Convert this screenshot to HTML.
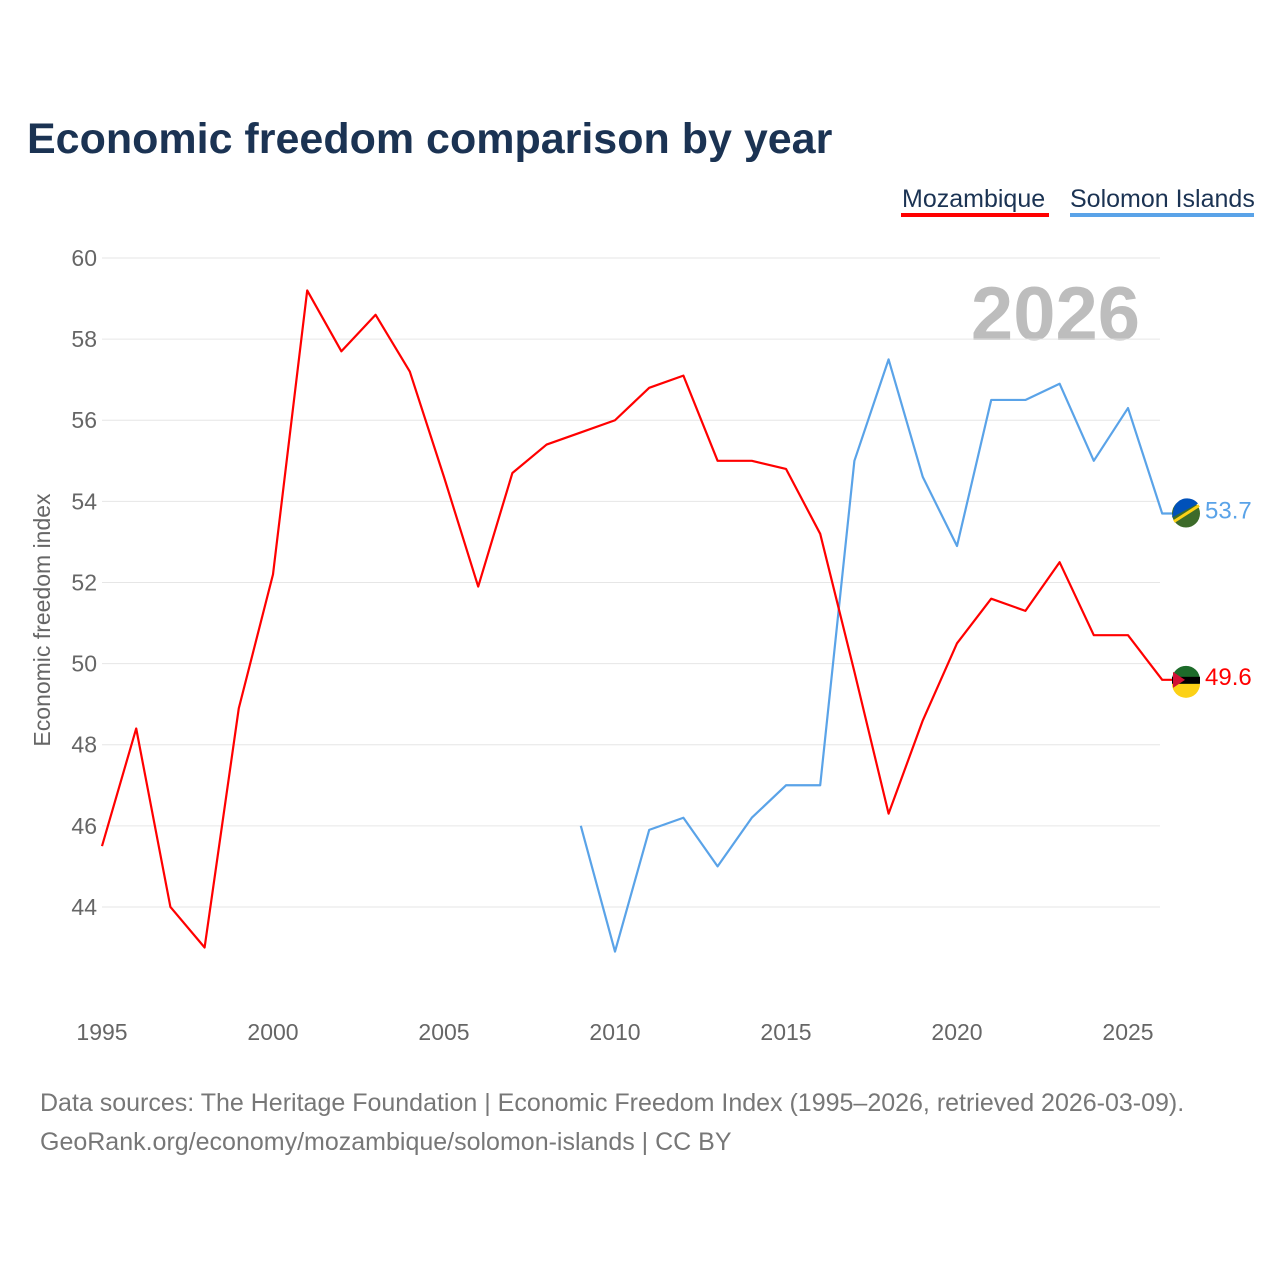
<!DOCTYPE html>
<html><head><meta charset="utf-8"><style>
body{margin:0;background:#fff;font-family:"Liberation Sans",sans-serif}
svg text{font-family:"Liberation Sans",sans-serif}
</style></head><body>
<svg id="chart" width="1280" height="1280">
<text x="27" y="153" font-size="43" font-weight="bold" fill="#1b3353">Economic freedom comparison by year</text>
<g>
<text x="902" y="207" font-size="25" fill="#1b3353">Mozambique</text>
<rect x="901" y="213" width="148" height="4" fill="#ff0000"/>
<text x="1070" y="207" font-size="25" fill="#1b3353">Solomon Islands</text>
<rect x="1070" y="213" width="184" height="4" fill="#5aa3e8"/>
</g>
<text x="1140" y="340" font-size="76" font-weight="bold" fill="#bdbdbd" text-anchor="end">2026</text>
<g id="grid"></g><g id="xt"></g><g id="lines"></g>
<text transform="translate(50,620) rotate(-90)" font-size="23" fill="#666" text-anchor="middle">Economic freedom index</text>
<text x="40" y="1111" font-size="25" fill="#777">Data sources: The Heritage Foundation | Economic Freedom Index (1995–2026, retrieved 2026-03-09).</text>
<text x="40" y="1150" font-size="25" fill="#777">GeoRank.org/economy/mozambique/solomon-islands | CC BY</text>
</svg>
<script>
const years=[1995,1996,1997,1998,1999,2000,2001,2002,2003,2004,2005,2006,2007,2008,2009,2010,2011,2012,2013,2014,2015,2016,2017,2018,2019,2020,2021,2022,2023,2024,2025,2026];
const mozambique=[45.5,48.4,44.0,43.0,48.9,52.2,59.2,57.7,58.6,57.2,54.6,51.9,54.7,55.4,55.7,56.0,56.8,57.1,55.0,55.0,54.8,53.2,49.8,46.3,48.6,50.5,51.6,51.3,52.5,50.7,50.7,49.6];
const solomon=[null,null,null,null,null,null,null,null,null,null,null,null,null,null,46.0,42.9,45.9,46.2,45.0,46.2,47.0,47.0,55.0,57.5,54.6,52.9,56.5,56.5,56.9,55.0,56.3,53.7];
const yTicks=[44,46,48,50,52,54,56,58,60];
const xTicks=[1995,2000,2005,2010,2015,2020,2025];
const NS="http://www.w3.org/2000/svg";
const X=y=>102+(y-1995)*34.2, Y=v=>258+(60-v)*40.56;
function mk(t,a,p){const e=document.createElementNS(NS,t);for(const k in a)e.setAttribute(k,a[k]);p.appendChild(e);return e;}
const g=document.getElementById('grid');
yTicks.forEach(v=>{
 const l=mk('line',{x1:102,x2:1160,y1:Y(v),y2:Y(v),stroke:'#e6e6e6','stroke-width':1},g);
 
 
 const t=mk('text',{x:97,y:Y(v)+8,'font-size':23,fill:'#666','text-anchor':'end'},g);t.textContent=v;
 
 
});
const xt=document.getElementById('xt');
xTicks.forEach(v=>{
 const t=mk('text',{x:X(v),y:1040,'font-size':23,fill:'#666','text-anchor':'middle'},xt);t.textContent=v;
 
 
});
const L=document.getElementById('lines');
function series(vals,color,name){
 let d='';let pen=false;
 vals.forEach((v,i)=>{if(v==null){pen=false;return;}d+=(pen?'L':'M')+X(years[i])+','+Y(v);pen=true;});
 const last=vals[vals.length-1];
 d+='L'+(X(years[years.length-1])+14)+','+Y(last);
 const p=mk('path',{d:d,fill:'none',stroke:color,'stroke-width':2.2,'stroke-linejoin':'round'},L);
 
 
 const c=mk('circle',{cx:1186,cy:Y(last),r:14,fill:name==='mozambique'?'#1d6b2a':'#3d6b2a'},L);
 
 
 if(name==='mozambique'){mk('rect',{x:1172,y:Y(last)-3,width:28,height:7,fill:'#000'},L);mk('path',{d:`M1172,${Y(last)+4}h28a14,14 0 0 1 -28,0z`,fill:'#fcd116'},L);mk('path',{d:`M1173,${Y(last)-8}l12,8l-12,8z`,fill:'#d21034'},L);}
 else{mk('path',{d:`M1172,${Y(last)+4}L1198,${Y(last)-10}A14,14 0 0 0 1174,${Y(last)-6}z`,fill:'#0051ba'},L);mk('line',{x1:1174,y1:Y(last)+8,x2:1199,y2:Y(last)-8,stroke:'#fcd116','stroke-width':3},L);}
 const t=mk('text',{x:1205,y:Y(last)+5,'font-size':24,fill:color},L);t.textContent=last.toFixed(1);
 
 
}
series(solomon,'#5aa3e8','solomon-islands');
series(mozambique,'#ff0000','mozambique');
</script>
</body></html>
